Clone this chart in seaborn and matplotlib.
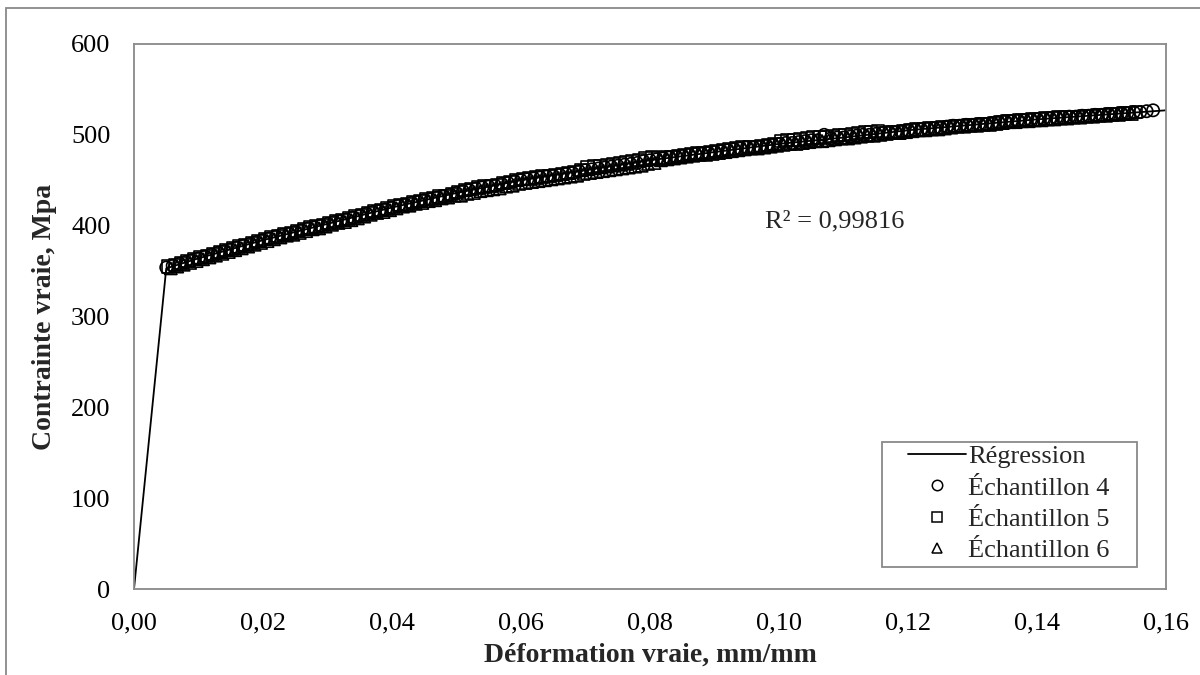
import matplotlib
matplotlib.use("Agg")
import matplotlib.pyplot as plt
from matplotlib.lines import Line2D
from matplotlib.patches import Rectangle
import pandas as pd
import seaborn as sns

# Fitted true stress-strain curve (elastic part + plastic fit)
reg_strain = [0.0, 0.005, 0.01, 0.02, 0.03, 0.04, 0.05, 0.06, 0.07, 0.08,
              0.09, 0.10, 0.11, 0.12, 0.13, 0.14, 0.15, 0.16]
reg_stress = [0, 353, 364, 384, 402, 420, 436, 450, 461, 472,
              481, 490, 497, 505, 511, 517, 522, 527]

# Specimen 4
s4_strain = [0.005, 0.006, 0.007, 0.008, 0.009, 0.010, 0.011, 0.012, 0.013, 0.014,
             0.015, 0.016, 0.017, 0.018, 0.019, 0.020, 0.021, 0.022, 0.023, 0.024,
             0.025, 0.026, 0.027, 0.028, 0.029, 0.030, 0.031, 0.032, 0.033, 0.034,
             0.035, 0.036, 0.037, 0.038, 0.039, 0.040, 0.041, 0.042, 0.043, 0.044,
             0.045, 0.046, 0.047, 0.048, 0.049, 0.050, 0.051, 0.052, 0.053, 0.054,
             0.055, 0.056, 0.057, 0.058, 0.059, 0.060, 0.061, 0.062, 0.063, 0.064,
             0.065, 0.066, 0.067, 0.068, 0.069, 0.070, 0.071, 0.072, 0.073, 0.074,
             0.075, 0.076, 0.077, 0.078, 0.079, 0.080, 0.081, 0.082, 0.083, 0.084,
             0.085, 0.086, 0.087, 0.088, 0.089, 0.090, 0.091, 0.092, 0.093, 0.094,
             0.095, 0.096, 0.097, 0.098, 0.099, 0.100, 0.101, 0.102, 0.103, 0.104,
             0.105, 0.106, 0.107, 0.108, 0.109, 0.110, 0.111, 0.112, 0.113, 0.114,
             0.115, 0.116, 0.117, 0.118, 0.119, 0.120, 0.121, 0.122, 0.123, 0.124,
             0.125, 0.126, 0.127, 0.128, 0.129, 0.130, 0.131, 0.132, 0.133, 0.134,
             0.135, 0.136, 0.137, 0.138, 0.139, 0.140, 0.141, 0.142, 0.143, 0.144,
             0.145, 0.146, 0.147, 0.148, 0.149, 0.150, 0.151, 0.152, 0.153, 0.154,
             0.155, 0.156, 0.157, 0.158]
s4_stress = [354, 356, 358, 360, 362, 364, 366, 368, 370, 372,
             374, 376, 378, 380, 382, 384, 386, 388, 390, 391,
             393, 395, 397, 398, 400, 402, 404, 405, 407, 409,
             411, 413, 415, 416, 418, 420, 422, 423, 425, 426,
             428, 429, 431, 432, 434, 436, 438, 439, 441, 442,
             443, 444, 446, 447, 449, 450, 451, 452, 453, 454,
             455, 456, 457, 458, 460, 461, 462, 463, 464, 465,
             466, 467, 468, 469, 471, 472, 473, 474, 475, 476,
             477, 478, 479, 479, 480, 481, 482, 483, 484, 485,
             486, 486, 487, 488, 489, 490, 491, 491, 492, 493,
             494, 494, 500, 496, 497, 497, 498, 499, 500, 500,
             501, 502, 503, 503, 504, 505, 506, 506, 507, 507,
             508, 509, 510, 510, 511, 511, 512, 512, 513, 514,
             515, 515, 516, 516, 517, 517, 518, 518, 519, 519,
             520, 520, 521, 521, 522, 522, 523, 523, 524, 524,
             525, 525, 526, 527]

# Specimen 5
s5_strain = [0.0053, 0.0063, 0.0073, 0.0083, 0.0093, 0.0103, 0.0113, 0.0123, 0.0133, 0.0143,
             0.0153, 0.0163, 0.0173, 0.0183, 0.0193, 0.0203, 0.0213, 0.0223, 0.0233, 0.0243,
             0.0253, 0.0263, 0.0273, 0.0283, 0.0293, 0.0303, 0.0313, 0.0323, 0.0333, 0.0343,
             0.0353, 0.0363, 0.0373, 0.0383, 0.0393, 0.0403, 0.0413, 0.0423, 0.0433, 0.0443,
             0.0453, 0.0463, 0.0473, 0.0483, 0.0493, 0.0503, 0.0513, 0.0523, 0.0533, 0.0543,
             0.0553, 0.0563, 0.0573, 0.0583, 0.0593, 0.0603, 0.0613, 0.0623, 0.0633, 0.0643,
             0.0653, 0.0663, 0.0673, 0.0683, 0.0693, 0.0703, 0.0713, 0.0723, 0.0733, 0.0743,
             0.0753, 0.0763, 0.0773, 0.0783, 0.0793, 0.0803, 0.0813, 0.0823, 0.0833, 0.0843,
             0.0853, 0.0863, 0.0873, 0.0883, 0.0893, 0.0903, 0.0913, 0.0923, 0.0933, 0.0943,
             0.0953, 0.0963, 0.0973, 0.0983, 0.0993, 0.1003, 0.1013, 0.1023, 0.1033, 0.1043,
             0.1053, 0.1063, 0.1073, 0.1083, 0.1093, 0.1103, 0.1113, 0.1123, 0.1133, 0.1143,
             0.1153, 0.1163, 0.1173, 0.1183, 0.1193, 0.1203, 0.1213, 0.1223, 0.1233, 0.1243,
             0.1253, 0.1263, 0.1273, 0.1283, 0.1293, 0.1303, 0.1313, 0.1323, 0.1333, 0.1343,
             0.1353, 0.1363, 0.1373, 0.1383, 0.1393, 0.1403, 0.1413, 0.1423, 0.1433, 0.1443,
             0.1453, 0.1463, 0.1473, 0.1483, 0.1493, 0.1503, 0.1513, 0.1523, 0.1533, 0.1543,
             0.1553]
s5_stress = [355, 357, 359, 361, 363, 365, 367, 369, 371, 373,
             375, 377, 379, 381, 383, 385, 387, 389, 391, 392,
             394, 396, 398, 399, 401, 403, 405, 406, 408, 410,
             412, 414, 416, 417, 419, 421, 423, 424, 426, 427,
             429, 430, 432, 433, 435, 437, 439, 440, 442, 443,
             444, 445, 447, 448, 450, 451, 452, 453, 454, 455,
             456, 457, 458, 459, 461, 464, 465, 466, 467, 468,
             469, 470, 471, 472, 474, 475, 474, 475, 476, 477,
             478, 479, 480, 480, 481, 482, 483, 484, 485, 486,
             487, 487, 488, 489, 490, 493, 494, 494, 495, 496,
             497, 497, 498, 499, 500, 500, 501, 502, 503, 503,
             504, 502, 503, 503, 504, 505, 506, 506, 507, 507,
             508, 509, 510, 510, 511, 511, 512, 512, 513, 514,
             515, 515, 516, 516, 517, 517, 518, 518, 519, 519,
             520, 520, 521, 521, 522, 522, 523, 523, 524, 524,
             525]

# Specimen 6
s6_strain = [0.0057, 0.0067, 0.0077, 0.0087, 0.0097, 0.0107, 0.0117, 0.0127, 0.0137, 0.0147,
             0.0157, 0.0167, 0.0177, 0.0187, 0.0197, 0.0207, 0.0217, 0.0227, 0.0237, 0.0247,
             0.0257, 0.0267, 0.0277, 0.0287, 0.0297, 0.0307, 0.0317, 0.0327, 0.0337, 0.0347,
             0.0357, 0.0367, 0.0377, 0.0387, 0.0397, 0.0407, 0.0417, 0.0427, 0.0437, 0.0447,
             0.0457, 0.0467, 0.0477, 0.0487, 0.0497, 0.0507, 0.0517, 0.0527, 0.0537, 0.0547,
             0.0557, 0.0567, 0.0577, 0.0587, 0.0597, 0.0607, 0.0617, 0.0627, 0.0637, 0.0647,
             0.0657, 0.0667, 0.0677, 0.0687, 0.0697, 0.0707, 0.0717, 0.0727, 0.0737, 0.0747,
             0.0757, 0.0767, 0.0777, 0.0787, 0.0797, 0.0807, 0.0817, 0.0827, 0.0837, 0.0847,
             0.0857, 0.0867, 0.0877, 0.0887, 0.0897, 0.0907, 0.0917, 0.0927, 0.0937, 0.0947,
             0.0957, 0.0967, 0.0977, 0.0987, 0.0997, 0.1007, 0.1017, 0.1027, 0.1037, 0.1047,
             0.1057, 0.1067, 0.1077, 0.1087, 0.1097, 0.1107, 0.1117, 0.1127, 0.1137, 0.1147,
             0.1157, 0.1167, 0.1177, 0.1187, 0.1197, 0.1207, 0.1217, 0.1227, 0.1237, 0.1247,
             0.1257, 0.1267, 0.1277, 0.1287, 0.1297, 0.1307, 0.1317, 0.1327, 0.1337, 0.1347,
             0.1357, 0.1367, 0.1377, 0.1387, 0.1397, 0.1407, 0.1417, 0.1427, 0.1437, 0.1447,
             0.1457, 0.1467, 0.1477, 0.1487, 0.1497, 0.1507, 0.1517, 0.1527, 0.1537, 0.1547]
s6_stress = [353, 355, 357, 359, 361, 363, 365, 367, 369, 371,
             373, 375, 377, 379, 381, 383, 385, 387, 389, 390,
             392, 394, 396, 397, 399, 401, 403, 404, 406, 408,
             410, 412, 414, 415, 417, 419, 421, 422, 424, 425,
             427, 428, 430, 431, 433, 433, 435, 436, 438, 439,
             440, 441, 443, 444, 446, 447, 448, 449, 450, 451,
             452, 453, 454, 455, 457, 458, 459, 460, 461, 462,
             463, 464, 465, 466, 468, 469, 472, 473, 474, 475,
             476, 477, 478, 478, 479, 480, 481, 482, 483, 484,
             485, 485, 486, 487, 488, 489, 490, 490, 491, 492,
             493, 493, 494, 495, 496, 496, 497, 498, 499, 499,
             500, 501, 502, 502, 503, 504, 505, 505, 506, 506,
             507, 508, 509, 509, 510, 510, 511, 511, 512, 513,
             514, 514, 515, 515, 516, 516, 517, 517, 518, 518,
             519, 519, 520, 520, 521, 521, 522, 522, 523, 523]

x_ticks = [0.00, 0.02, 0.04, 0.06, 0.08, 0.10, 0.12, 0.14, 0.16]
x_tick_labels = ["0,00", "0,02", "0,04", "0,06", "0,08", "0,10", "0,12", "0,14", "0,16"]
y_ticks = [0, 100, 200, 300, 400, 500, 600]
y_tick_labels = ["0", "100", "200", "300", "400", "500", "600"]

series_names = ["Échantillon 4", "Échantillon 5", "Échantillon 6"]
series_markers = ["o", "s", "^"]

sns.set_style("white")
plt.rcParams["font.family"] = ["Liberation Serif", "DejaVu Serif"]

GRAY = "#898989"
FS = 19

fig = plt.figure(figsize=(12, 6.75), dpi=100)
ax = fig.add_axes([134 / 1200, 86 / 675, 1032 / 1200, 545 / 675])

# Chart area border
fig.patches.append(Rectangle((6 / 1200, -0.05), 1.1, 0.988 + 0.05,
                             transform=fig.transFigure, fill=False,
                             edgecolor=GRAY, linewidth=1.3, zorder=0))

reg_df = pd.DataFrame({"strain": reg_strain, "stress": reg_stress})
sns.lineplot(data=reg_df, x="strain", y="stress", sort=False, estimator=None,
             color="black", linewidth=1.3, ax=ax, zorder=2)

samples = [(s4_strain, s4_stress), (s5_strain, s5_stress), (s6_strain, s6_stress)]
for (sx, sy), mk in zip(samples, series_markers):
    df = pd.DataFrame({"strain": sx, "stress": sy})
    sns.scatterplot(data=df, x="strain", y="stress", marker=mk, s=78,
                    linewidth=1.2, ax=ax, zorder=3)
    pts = ax.collections[-1]
    pts.set_facecolor("none")
    pts.set_edgecolor("black")

ax.set_xlim(0, 0.16)
ax.set_ylim(0, 600)
ax.set_xticks(x_ticks)
ax.set_xticklabels(x_tick_labels)
ax.set_yticks(y_ticks)
ax.set_yticklabels(y_tick_labels)

for side in ["left", "bottom", "top", "right"]:
    ax.spines[side].set_visible(True)
    ax.spines[side].set_color(GRAY)
    ax.spines[side].set_linewidth(1.3)
ax.tick_params(axis="both", direction="out", length=6, width=1.3, color=GRAY,
               labelsize=FS, labelcolor="black")
ax.tick_params(axis="y", pad=11)
ax.tick_params(axis="x", pad=11)

ax.set_xlabel("Déformation vraie, mm/mm", fontsize=20, fontweight="bold", labelpad=6)
ax.set_ylabel("Contrainte vraie, Mpa", fontsize=20, fontweight="bold", labelpad=10)

ax.text(0.0978, 405, "R² = 0,99816", fontsize=FS, ha="left", va="center")

# Legend box drawn as a plain rectangle, entries placed inside it
ax.add_patch(Rectangle((748 / 1032, 22 / 545), 255 / 1032, 125 / 545,
                       transform=ax.transAxes, fill=True, facecolor="white",
                       edgecolor=GRAY, linewidth=1.3, zorder=5))
handles = [Line2D([], [], color="black", linewidth=1.3)]
for mk in series_markers:
    handles.append(Line2D([], [], linestyle="none", marker=mk, markersize=7.5,
                          markerfacecolor="none", markeredgecolor="black",
                          markeredgewidth=1.1))
leg = ax.legend(handles, ["Régression"] + series_names, loc="center left",
                bbox_to_anchor=(774 / 1032, 85.5 / 545), fontsize=FS,
                frameon=False, handlelength=2.2, handletextpad=0.08,
                labelspacing=0.3, borderpad=0, borderaxespad=0)
leg.set_zorder(6)

fig.savefig("out.png", dpi=100, facecolor="white")
